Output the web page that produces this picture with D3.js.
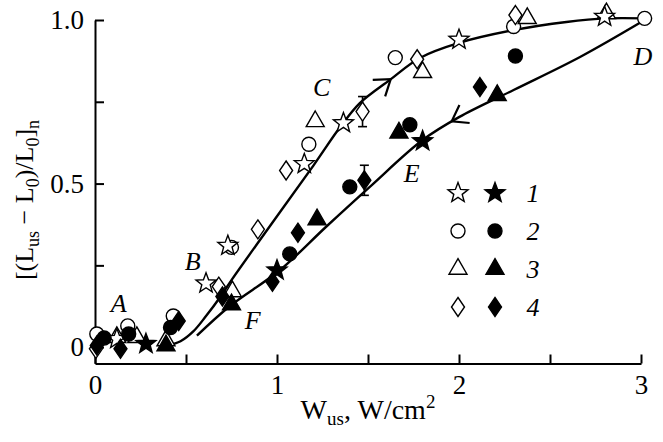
<!DOCTYPE html>
<html>
<head>
<meta charset="utf-8">
<script src="https://cdn.jsdelivr.net/npm/d3@7"></script>
<style>
  body { margin: 0; background: #fff; }
  svg { display: block; font-family: "Liberation Serif", "Times New Roman", serif; }
</style>
</head>
<body>
<svg id="chart" width="663" height="442"></svg>
<script>
// values: x = W_us (W/cm2), y = [(Lus - L0)/L0]n
const openStars = [[0.12,0.025],[0.61,0.195],[0.73,0.31],[1.15,0.56],[1.365,0.685],[2.0,0.94],[2.8,1.01]];
const filledStars = [[0.28,0.01],[1.0,0.235],[1.8,0.63]];
const openCircles = [[0.01,0.04],[0.18,0.065],[0.43,0.095],[0.75,0.305],[1.175,0.62],[1.65,0.885],[2.3,0.98],[3.02,1.005]];
const filledCircles = [[0.05,0.028],[0.185,0.04],[0.415,0.06],[1.07,0.285],[1.4,0.49],[1.73,0.68],[2.31,0.89]];
const openTriangles = [[0.12,0.03],[0.23,0.03],[0.39,0.02],[0.755,0.17],[1.21,0.69],[1.8,0.84],[2.375,1.005],[2.81,1.02]];
const filledTriangles = [[0.39,0.005],[0.75,0.13],[1.22,0.39],[1.67,0.655],[2.21,0.77]];
const openDiamonds = [[0.005,-0.005],[0.68,0.185],[0.895,0.36],[1.05,0.54],[1.47,0.72],[1.77,0.88],[2.31,1.015]];
const filledDiamonds = [[0.01,0.005],[0.14,-0.005],[0.46,0.08],[0.7,0.155],[0.975,0.2],[1.115,0.35],[1.48,0.51],[2.115,0.795]];
// [x, y, half-width of error bar]
const errorBars = [[1.47,0.72,0.046],[1.48,0.51,0.046]];

// the two guide curves: increasing power (A-B-C-D) and decreasing power (D-E-F)
const forwardCurve = [[0.40,0.005],[0.47,0.018],[0.54,0.048],[0.61,0.095],[0.69,0.155],[0.75,0.205],[1.0,0.40],[1.2,0.555],[1.35,0.675],[1.455,0.746],[1.62,0.817],[1.785,0.884],[2.0,0.93],[2.3,0.969],[2.59,0.994],[2.81,1.005],[3.02,1.005]];
const reverseCurve = [[3.02,1.0],[2.665,0.887],[2.3,0.786],[2.0,0.703],[1.8,0.633],[1.51,0.49],[1.27,0.368],[1.015,0.235],[0.74,0.125],[0.56,0.035]];
const arrowX = [1.625, 1.96];

const pointLetters = ["A","B","C","D","E","F"];
const letterPos = [[0.13,0.135],[0.537,0.263],[1.246,0.795],[3.01,0.89],[1.74,0.532],[0.866,0.083]];

const xTicks = [0,0.5,1,1.5,2,2.5,3];
const xTickLabels = ["0","","1","","2","","3"];
const yTicks = [0,0.25,0.5,0.75,1];
const yTickLabels = ["0","","0.5","","1.0"];
const legendLabels = ["1","2","3","4"];

const serif = '"Liberation Serif", "Times New Roman", serif';
const svg = d3.select("#chart");
const x = d3.scaleLinear().domain([0,3]).range([95,641]);
const y = d3.scaleLinear().domain([-0.05,1]).range([363.5,20]);

// marker shapes
function starPath(R){
  const pts = d3.range(10).map(i => {
    const a = -Math.PI/2 + i*Math.PI/5, r = i%2 ? R*0.42 : R;
    return [r*Math.cos(a), r*Math.sin(a)];
  });
  return "M" + pts.join("L") + "Z";
}
const shapes = {
  star: starPath(10.5),
  circle: d3.arc()({innerRadius:0, outerRadius:7, startAngle:0, endAngle:2*Math.PI}),
  triangle: "M0,-10.4L9,5.2L-9,5.2Z",
  diamond: "M0,-9.5L6.5,0L0,9.5L-6.5,0Z"
};

// axes
const xAxis = svg.append("g")
  .attr("transform", "translate(0," + y(-0.05) + ")")
  .call(d3.axisBottom(x).tickValues(xTicks).tickSize(-9).tickSizeOuter(0).tickPadding(11)
    .tickFormat((d,i) => xTickLabels[i]));
const yAxis = svg.append("g")
  .attr("transform", "translate(" + x(0) + ",0)")
  .call(d3.axisLeft(y).tickValues(yTicks).tickSize(-9).tickSizeOuter(0).tickPadding(11)
    .tickFormat((d,i) => yTickLabels[i]));
[xAxis, yAxis].forEach(g => {
  g.attr("font-family", serif).attr("font-size", 27);
  g.selectAll("path, line").attr("stroke-width", 2);
  g.selectAll("text").attr("fill", "#000");
});

// axis titles
const xt = svg.append("text").attr("x", 368).attr("y", 419)
  .attr("text-anchor", "middle").attr("font-size", 28);
xt.append("tspan").text("W");
xt.append("tspan").attr("font-size", 19).attr("dy", 6).text("us");
xt.append("tspan").attr("dy", -6).text(", W/cm");
xt.append("tspan").attr("font-size", 19).attr("dy", -11).text("2");

const yt = svg.append("text")
  .attr("transform", "translate(33,200) rotate(-90)")
  .attr("text-anchor", "middle").attr("font-size", 26);
yt.append("tspan").text("[(L");
yt.append("tspan").attr("font-size", 18).attr("dy", 6).text("us");
yt.append("tspan").attr("dy", -6).text(" \u2212 L");
yt.append("tspan").attr("font-size", 18).attr("dy", 6).text("0");
yt.append("tspan").attr("dy", -6).text(")/L");
yt.append("tspan").attr("font-size", 18).attr("dy", 6).text("0");
yt.append("tspan").attr("dy", -6).text("]");
yt.append("tspan").attr("font-size", 18).attr("dy", 6).text("n");

// curves
const line = d3.line().x(d => x(d[0])).y(d => y(d[1])).curve(d3.curveCatmullRom.alpha(0.5));
const curvePaths = [forwardCurve, reverseCurve].map(c =>
  svg.append("path").datum(c).attr("d", line)
    .attr("fill", "none").attr("stroke", "#000").attr("stroke-width", 2.4)
    .node());

// chevron arrows along each curve, pointing in the sweep direction
curvePaths.forEach((node, k) => {
  const total = node.getTotalLength();
  let best = 0, bestD = Infinity;
  for (let L = 0; L <= total; L += 0.5) {
    const dd = Math.abs(node.getPointAtLength(L).x - x(arrowX[k]));
    if (dd < bestD) { bestD = dd; best = L; }
  }
  const p = node.getPointAtLength(best), q = node.getPointAtLength(Math.max(0, best - 2));
  const back = Math.atan2(q.y - p.y, q.x - p.x);
  const len = 18, spread = 35 * Math.PI / 180;
  const b1 = [p.x + len*Math.cos(back + spread), p.y + len*Math.sin(back + spread)];
  const b2 = [p.x + len*Math.cos(back - spread), p.y + len*Math.sin(back - spread)];
  svg.append("path")
    .attr("d", "M" + b1 + "L" + [p.x, p.y] + "L" + b2)
    .attr("fill", "none").attr("stroke", "#000").attr("stroke-width", 2.2);
});

// error bars
const eb = svg.append("g").attr("stroke", "#000").attr("stroke-width", 1.6);
errorBars.forEach(d => {
  const cx = x(d[0]);
  eb.append("line").attr("x1", cx).attr("x2", cx).attr("y1", y(d[1]-d[2])).attr("y2", y(d[1]+d[2]));
  [d[1]-d[2], d[1]+d[2]].forEach(v =>
    eb.append("line").attr("x1", cx-4.5).attr("x2", cx+4.5).attr("y1", y(v)).attr("y2", y(v)));
});

// markers
const seriesDefs = [
  {data: openCircles, shape: "circle", filled: false},
  {data: openDiamonds, shape: "diamond", filled: false},
  {data: openTriangles, shape: "triangle", filled: false},
  {data: openStars, shape: "star", filled: false},
  {data: filledCircles, shape: "circle", filled: true},
  {data: filledDiamonds, shape: "diamond", filled: true},
  {data: filledTriangles, shape: "triangle", filled: true},
  {data: filledStars, shape: "star", filled: true}
];
seriesDefs.forEach(s => {
  svg.append("g").selectAll("path").data(s.data).join("path")
    .attr("transform", d => "translate(" + x(d[0]) + "," + y(d[1]) + ")")
    .attr("d", shapes[s.shape])
    .attr("fill", s.filled ? "#000" : "#fff")
    .attr("stroke", "#000").attr("stroke-width", 1.4)
    .attr("stroke-linejoin", "miter");
});

// letters on the curves
svg.append("g").selectAll("text").data(pointLetters).join("text")
  .attr("x", (d,i) => x(letterPos[i][0]))
  .attr("y", (d,i) => y(letterPos[i][1]))
  .attr("dy", "0.35em").attr("text-anchor", "middle")
  .attr("font-size", 26).attr("font-style", "italic")
  .text(d => d);

// legend
const legendShapes = ["star","circle","triangle","diamond"];
const lg = svg.append("g").attr("transform", "translate(458,193)");
legendLabels.forEach((lab, i) => {
  const row = lg.append("g").attr("transform", "translate(0," + (i*38) + ")");
  row.append("path").attr("d", shapes[legendShapes[i]])
    .attr("fill", "#fff").attr("stroke", "#000").attr("stroke-width", 1.4);
  row.append("path").attr("transform", "translate(37,0)").attr("d", shapes[legendShapes[i]])
    .attr("fill", "#000").attr("stroke", "#000").attr("stroke-width", 1.4);
  row.append("text").attr("x", 75).attr("dy", "0.35em").attr("text-anchor", "middle")
    .attr("font-size", 26).attr("font-style", "italic").text(lab);
});
</script>
</body>
</html>
